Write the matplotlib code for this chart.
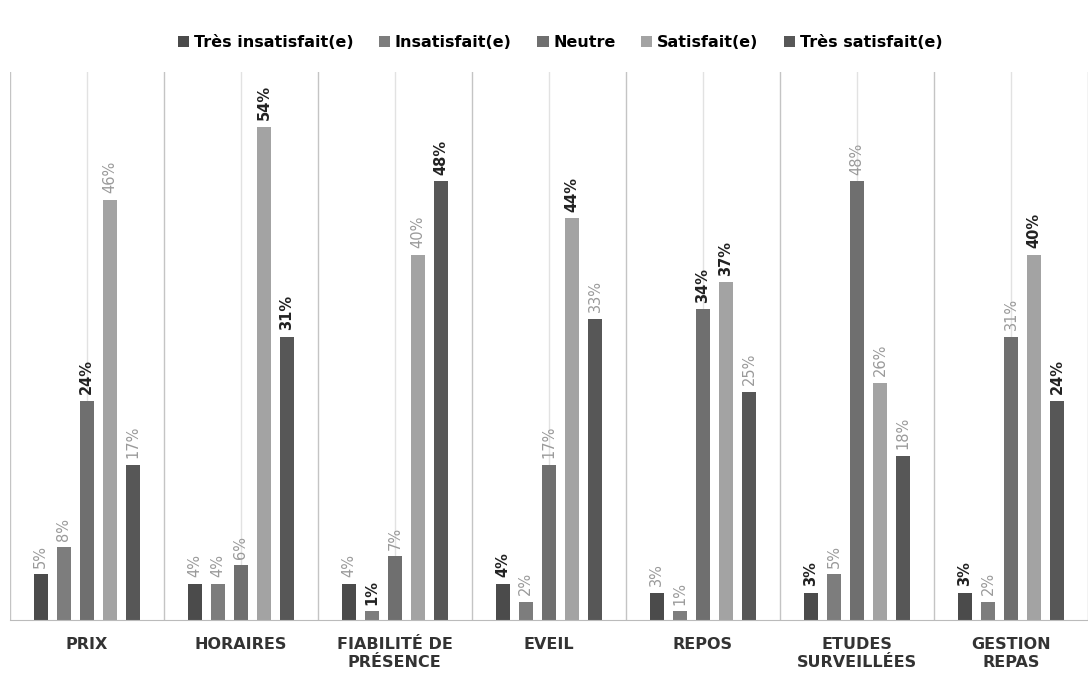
import numpy as np
from matplotlib import pyplot as plt

# =========================
# DANE
# =========================
categories = ["PRIX", "HORAIRES", "FIABILITÉ DE\nPRÉSENCE", "EVEIL", "REPOS",
              "ETUDES\nSURVEILLÉES", "GESTION\nREPAS"]
series_names = ["Très insatisfait(e)", "Insatisfait(e)", "Neutre", "Satisfait(e)", "Très satisfait(e)"]

tres_insatisfait = [5, 4, 4, 4, 3, 3, 3]
insatisfait = [8, 4, 1, 2, 1, 5, 2]
neutre = [24, 6, 7, 17, 34, 48, 31]
satisfait = [46, 54, 40, 44, 37, 26, 40]
tres_satisfait = [17, 31, 48, 33, 25, 18, 24]

# etykiety pogrubione (tak jak na skanie)
bold_labels = [
    [False, False, False, True, False, True, True],
    [False, False, True, False, False, False, False],
    [True, False, False, False, True, False, False],
    [False, True, False, True, True, False, True],
    [False, True, True, False, False, False, True],
]

colors = ["#4b4b4b", "#7d7d7d", "#6f6f6f", "#a3a3a3", "#575757"]

# =========================
# WYKRES
# =========================
plt.rcParams['font.family'] = ['Liberation Sans Narrow', 'DejaVu Sans']

fig = plt.figure(figsize=(10.88, 6.77), dpi=100)
ax = fig.add_axes([0.009, 0.084, 0.991, 0.81])

x = np.arange(len(categories))
step = 0.15
width = 0.092
all_series = [tres_insatisfait, insatisfait, neutre, satisfait, tres_satisfait]

# linie pionowe
for i in range(len(categories)):
    ax.axvline(i, color="#e2e2e2", lw=1, zorder=0)
for i in range(len(categories) + 1):
    ax.axvline(i - 0.5, color="#c4c4c4", lw=1, zorder=0)

for k, vals in enumerate(all_series):
    pos = x + (k - 2) * step
    ax.bar(pos, vals, width, color=colors[k], label=series_names[k], zorder=2)
    for j, v in enumerate(vals):
        b = bold_labels[k][j]
        ax.text(pos[j], v + 0.7, f"{v}%", rotation=90, ha="center", va="bottom",
                fontsize=10.5, fontweight="bold" if b else "normal",
                color="#222222" if b else "#9a9a9a", zorder=3)

ax.set_xlim(-0.5, len(categories) - 0.5)
ax.set_ylim(0, 60)
ax.set_yticks([])
ax.set_xticks(x)
ax.set_xticklabels(categories, fontsize=11.5, fontweight="bold", color="#333333",
                   linespacing=1.3)
ax.tick_params(axis="x", length=0, pad=12)
for s in ["top", "right", "left"]:
    ax.spines[s].set_visible(False)
ax.spines["bottom"].set_color("#bbbbbb")

fig.legend(loc="upper center", bbox_to_anchor=(0.515, 0.97), ncol=5, frameon=False,
           handlelength=0.7, handleheight=0.7, handletextpad=0.3,
           columnspacing=1.6, prop={"weight": "bold", "size": 11.5})

plt.savefig("out.png", dpi=100)
plt.close()
